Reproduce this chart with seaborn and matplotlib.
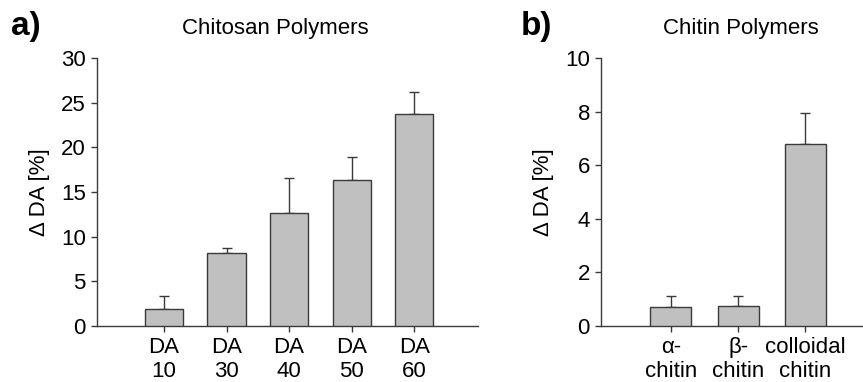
import numpy as np
import seaborn as sns
import matplotlib.pyplot as plt

# chitosan polymers (panel a)
chitosan_labels = ["DA\n10", "DA\n30", "DA\n40", "DA\n50", "DA\n60"]
chitosan_delta = [1.9, 8.2, 12.6, 16.3, 23.7]
chitosan_err = [1.5, 0.55, 4.0, 2.6, 2.5]

# chitin polymers (panel b)
chitin_labels = ["α-\nchitin", "β-\nchitin", "colloidal\nchitin"]
chitin_delta = [0.70, 0.75, 6.8]
chitin_err = [0.41, 0.36, 1.15]

sns.set_style("ticks")
plt.rcParams["font.family"] = ["Liberation Sans", "DejaVu Sans"]
plt.rcParams["text.color"] = "black"
plt.rcParams["axes.labelcolor"] = "black"
plt.rcParams["xtick.labelcolor"] = "black"
plt.rcParams["ytick.labelcolor"] = "black"

BAR = "#c0c0c0"
EDGE = "#3a3a3a"
FS = 16

fig = plt.figure(figsize=(8.63, 3.82), dpi=100)
ax_a = fig.add_axes([0.1124, 0.1466, 0.4415, 0.7015])
ax_b = fig.add_axes([0.6964, 0.1466, 0.3030, 0.7015])


def draw_panel(ax, labels, vals, errs, ymax, step, xlim):
    sns.barplot(x=labels, y=vals, color=BAR, edgecolor=EDGE, linewidth=1.0,
                width=0.61, saturation=1, ax=ax, zorder=3)
    pos = np.arange(len(vals))
    ax.errorbar(pos, vals, yerr=[np.zeros(len(errs)), errs], fmt="none",
                ecolor=EDGE, elinewidth=1.0, capsize=3.6, capthick=1.0, zorder=2)
    ax.set_xlim(*xlim)
    ax.set_ylim(0, ymax)
    ax.set_yticks(np.arange(0, ymax + step / 2, step))
    ax.set_ylabel("Δ DA [%]", fontsize=FS, labelpad=8)
    ax.set_xlabel("")
    ax.tick_params(axis="both", labelsize=FS, length=4, width=1.0, color=EDGE)
    ax.tick_params(axis="x", pad=4)
    ax.tick_params(axis="y", pad=4)
    for lab in ax.get_xticklabels():
        lab.set_linespacing(1.15)
    sns.despine(ax=ax)
    for s in ("left", "bottom"):
        ax.spines[s].set_color(EDGE)
        ax.spines[s].set_linewidth(1.0)


draw_panel(ax_a, chitosan_labels, chitosan_delta, chitosan_err, 30, 5, (-1.07, 5.02))
draw_panel(ax_b, chitin_labels, chitin_delta, chitin_err, 10, 2, (-1.04, 2.85))

fig.text(0.3187, 0.925, "Chitosan Polymers", fontsize=FS, ha="center", va="center")
fig.text(0.858, 0.925, "Chitin Polymers", fontsize=FS, ha="center", va="center")
fig.text(0.013, 0.93, "a)", fontsize=24, fontweight="bold", ha="left", va="center")
fig.text(0.603, 0.93, "b)", fontsize=24, fontweight="bold", ha="left", va="center")

fig.savefig("out.png", dpi=100)
